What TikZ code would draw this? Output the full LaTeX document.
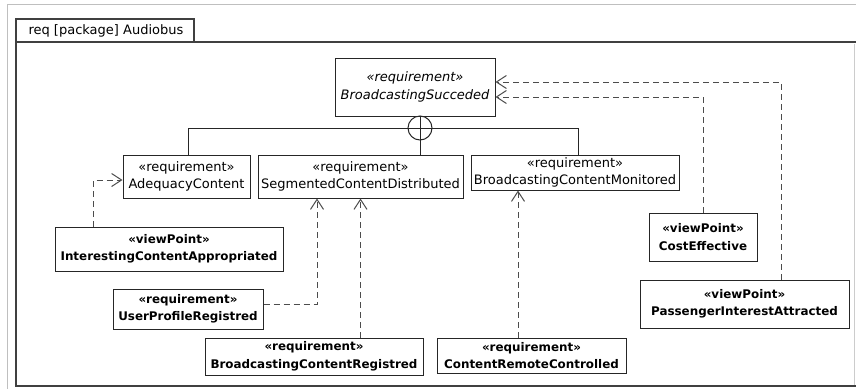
\documentclass[tikz,border=0pt]{standalone}
\usepackage{fontspec}
\setmainfont{DejaVu Sans}
\usetikzlibrary{arrows.meta}

\begin{document}
\begin{tikzpicture}[
  x=1pt, y=-1pt,
  box/.style={draw=black!85, line width=1pt, fill=white, align=center,
    inner sep=0pt, font=\fontsize{13}{17.5}\selectfont},
  req/.style={box, font=\fontsize{11.9}{17.5}\selectfont\bfseries},
  dep/.style={draw=black!70, line width=1pt, dash pattern=on 6pt off 4pt,
    -{Straight Barb[length=10pt,width=13pt,line width=1pt]}},
  link/.style={draw=black!85, line width=1pt}
]
  \useasboundingbox (0,0) rectangle (856,389);
  \draw[black!25, line width=0.6pt] (856,4) -- (7,4) -- (7,389);
  \draw[black!20, line width=0.6pt] (854,44) -- (854,385);
  \draw[black!75, line width=1.2pt] (856,42) -- (16,42) -- (16,386) -- (856,386);
  \draw[black!75, line width=1.2pt] (16,42) -- (16,19) -- (194,19) -- (194,42);
  \node[anchor=west, font=\fontsize{13}{16}\selectfont] (title) at (25,31) {req [package] Audiobus};

  \node[box, minimum width=160, minimum height=58] (succ) at (415,87)
    {\itshape «requirement»\\\itshape BroadcastingSucceded};
  \node[box, minimum width=127, minimum height=43] (adeq) at (186.5,176.5)
    {«requirement»\\AdequacyContent};
  \node[box, minimum width=205, minimum height=43] (segm) at (360.5,176.5)
    {«requirement»\\SegmentedContentDistributed};
  \node[box, minimum width=208, minimum height=35] (moni) at (575,172.5)
    {«requirement»\\BroadcastingContentMonitored};
  \node[req, minimum width=228, minimum height=44] (inter) at (169,249)
    {«viewPoint»\\InterestingContentAppropriated};
  \node[req, minimum width=150, minimum height=40] (user) at (188,309)
    {«requirement»\\UserProfileRegistred};
  \node[req, minimum width=218, minimum height=37] (bcreg) at (314,356.5)
    {«requirement»\\BroadcastingContentRegistred};
  \node[req, minimum width=189, minimum height=35] (remote) at (531.5,355.5)
    {«requirement»\\ContentRemoteControlled};
  \node[req, minimum width=108, minimum height=48] (cost) at (703,237)
    {«viewPoint»\\CostEffective};
  \node[req, minimum width=209, minimum height=48] (pass) at (744.5,304)
    {«viewPoint»\\PassengerInterestAttracted};

  \node[draw=black!85, line width=1pt, circle, minimum size=24, inner sep=0pt] (plus) at (420,128) {};
  \draw[link] (plus.north) -- (plus.south) (plus.west) -- (plus.east);
  \draw[link] (plus.west) -| ([xshift=1.5pt]adeq.north);
  \draw[link] (plus.east) -| ([xshift=3pt]moni.north);
  \draw[link] (plus.south) -- (plus.south |- segm.north);

  \draw[dep] ([xshift=-76pt]inter.north) |- ([yshift=-3.5pt]adeq.west);
  \draw[dep] ([yshift=5pt]user.east) -| ([xshift=-43.5pt]segm.south);
  \draw[dep] (bcreg.north -| segm.south) -- (segm.south);
  \draw[dep] ([xshift=-13.5pt]remote.north) -- ([xshift=-13.5pt]remote.north |- moni.south);
  \draw[dep] (cost.north) |- ([yshift=-10pt]succ.east);
  \draw[dep] ([xshift=36.5pt]pass.north) |- ([yshift=5pt]succ.east);
\end{tikzpicture}
\end{document}
